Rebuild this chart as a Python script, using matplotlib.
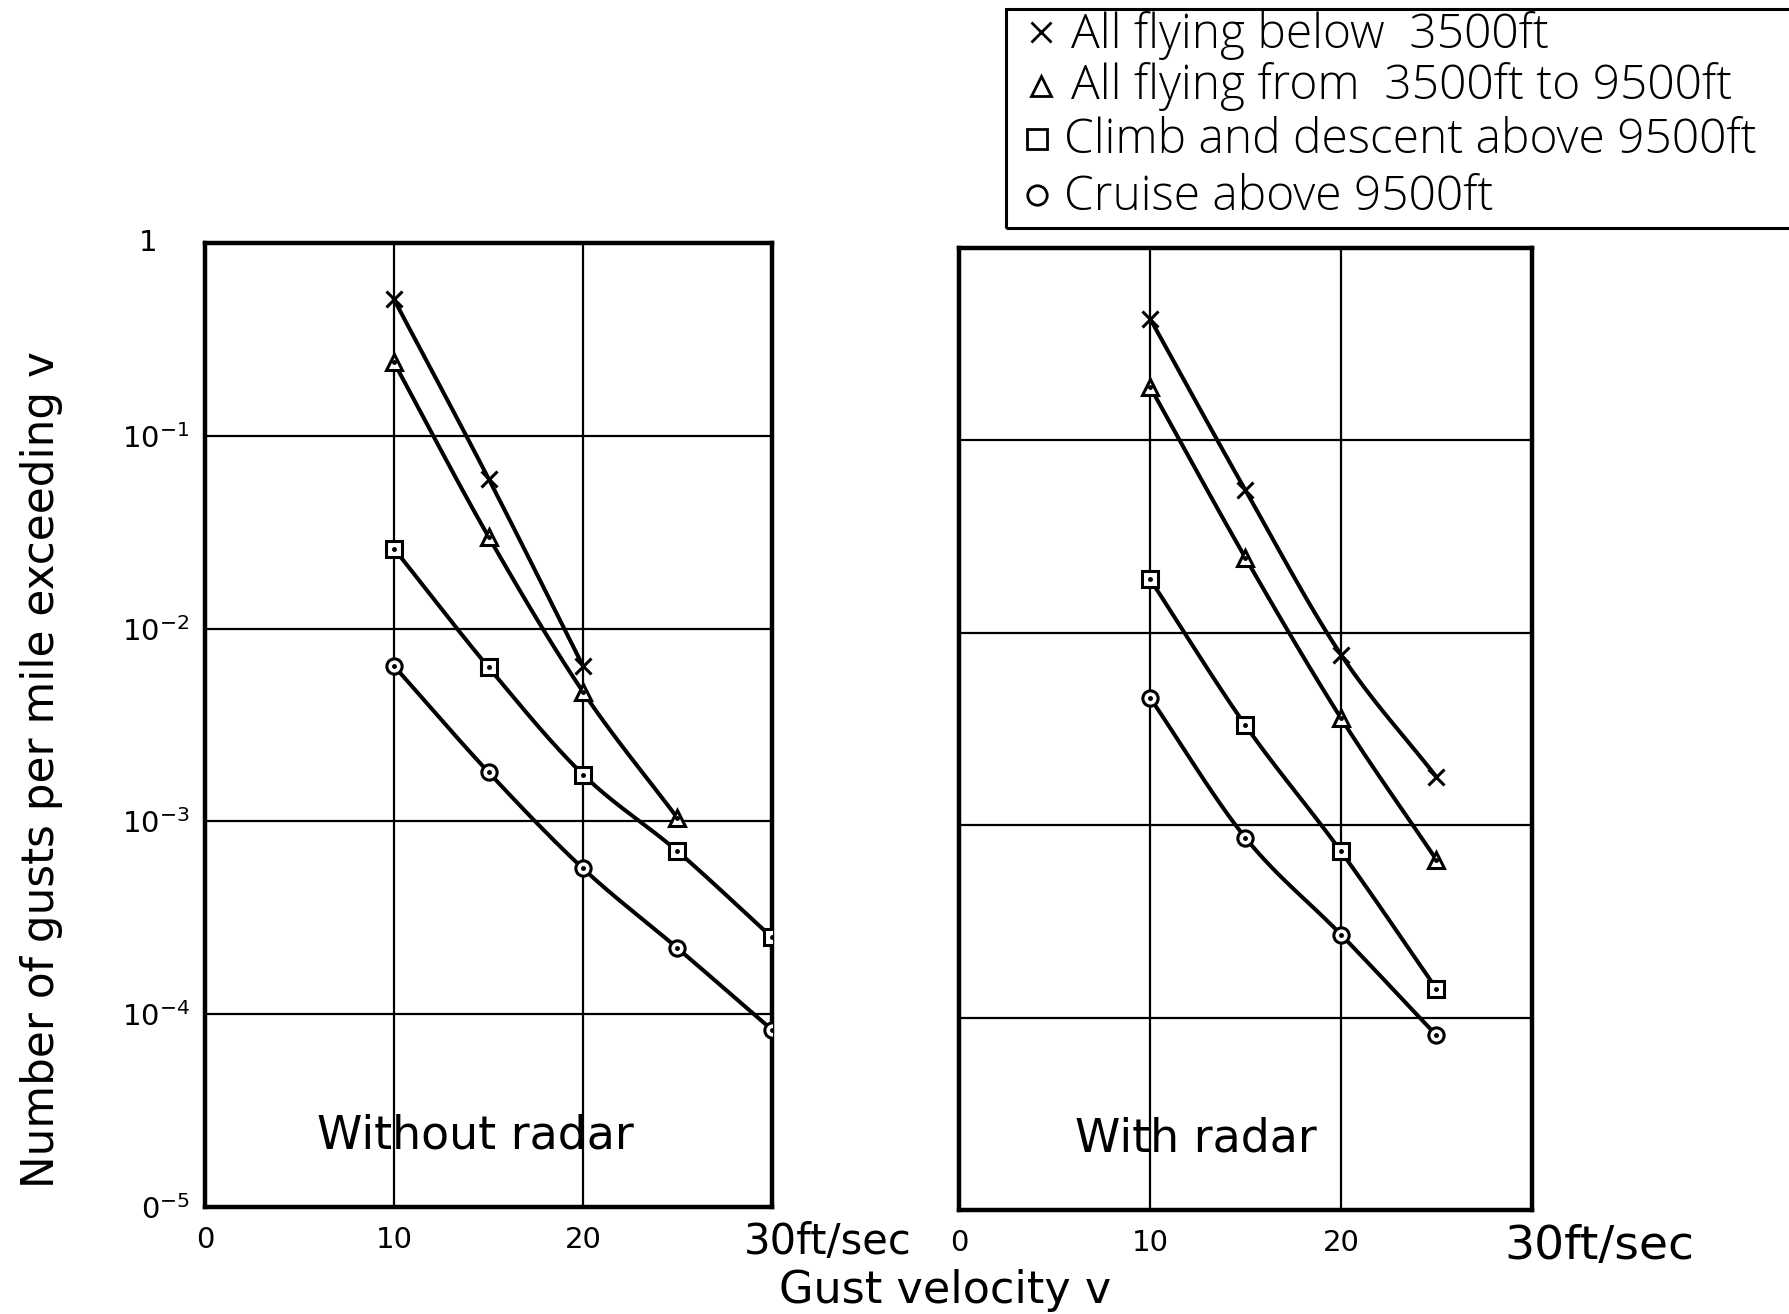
import numpy as np
import matplotlib
matplotlib.use("Agg")
import matplotlib.pyplot as plt
from matplotlib.lines import Line2D
from matplotlib.patches import Rectangle
from matplotlib.ticker import NullLocator

# ---------------- data ----------------
series_labels = ["All flying below  3500ft",
                 "All flying from  3500ft to 9500ft",
                 "Climb and descent above 9500ft",
                 "Cruise above 9500ft"]
series_markers = ["x", "^", "s", "o"]

# Without radar
wo_v_below = [10, 15, 20]
wo_n_below = [0.51, 0.060, 0.0064]
wo_v_mid = [10, 15, 20, 25]
wo_n_mid = [0.24, 0.030, 0.0047, 0.00104]
wo_v_climb = [10, 15, 20, 25, 30]
wo_n_climb = [0.026, 0.0063, 0.00175, 0.00070, 0.00025]
wo_v_cruise = [10, 15, 20, 25, 30]
wo_n_cruise = [0.0064, 0.0018, 0.00057, 0.00022, 0.000083]

# With radar
w_v_below = [10, 15, 20, 25]
w_n_below = [0.43, 0.055, 0.0077, 0.00178]
w_v_mid = [10, 15, 20, 25]
w_n_mid = [0.19, 0.0245, 0.0036, 0.00066]
w_v_climb = [10, 15, 20, 25]
w_n_climb = [0.019, 0.0033, 0.00073, 0.000141]
w_v_cruise = [10, 15, 20, 25]
w_n_cruise = [0.0046, 0.00086, 0.00027, 0.0000808]

x_ticks = [0, 10, 20, 30]
x_tick_labels = ["0", "10", "20", ""]
x_end_label = "30ft/sec"
y_ticks = [1e-5, 1e-4, 1e-3, 1e-2, 1e-1, 1]
y_tick_labels = [r"$\mathregular{0^{-5}}$", r"$\mathregular{10^{-4}}$", r"$\mathregular{10^{-3}}$",
                 r"$\mathregular{10^{-2}}$", r"$\mathregular{10^{-1}}$", ""]
y_top_label = "1"

# ---------------- styling ----------------
plt.rcParams["font.family"] = ["DejaVu Sans"]
LEG_FONT = dict(family=["Open Sans", "DejaVu Sans"], weight="light", size=34.5)


def smooth_curve(x, y, n=40):
    """Catmull-Rom curve through the points in (x, log y) space (drawing only)."""
    x = np.asarray(x, float)
    ly = np.log10(np.asarray(y, float))
    px = np.concatenate([[2 * x[0] - x[1]], x, [2 * x[-1] - x[-2]]])
    py = np.concatenate([[2 * ly[0] - ly[1]], ly, [2 * ly[-1] - ly[-2]]])
    xs, ys = [], []
    t = np.linspace(0, 1, n)
    for i in range(1, len(px) - 2):
        for arr, out in ((px, xs), (py, ys)):
            p0, p1, p2, p3 = arr[i - 1:i + 3]
            out.append(0.5 * ((2 * p1) + (-p0 + p2) * t
                              + (2 * p0 - 5 * p1 + 4 * p2 - p3) * t ** 2
                              + (-p0 + 3 * p1 - 3 * p2 + p3) * t ** 3))
    return np.concatenate(xs), 10 ** np.concatenate(ys)


W, H = 1790, 1314
fig = plt.figure(figsize=(W / 100, H / 100), dpi=100)
fig.patch.set_facecolor("white")

axL = fig.add_axes([205 / W, 1 - 1207 / H, (772 - 205) / W, (1207 - 243) / H])
axR = fig.add_axes([959 / W, 1 - 1210 / H, (1532 - 959) / W, (1210 - 248) / H])


def style_axis(ax, show_y, end_size):
    ax.set_yscale("log")
    ax.set_xlim(0, 30)
    ax.set_ylim(1e-5, 1)
    ax.set_xticks(x_ticks)
    ax.set_xticklabels(x_tick_labels)
    ax.set_yticks(y_ticks)
    ax.yaxis.set_minor_locator(NullLocator())
    if show_y:
        ax.set_yticklabels(y_tick_labels)
        ax.annotate(y_top_label, xy=(0, 1), xycoords="axes fraction",
                    xytext=(-41, 0), textcoords="offset points",
                    ha="center", va="center", fontsize=21)
    else:
        ax.set_yticklabels([])
    ax.tick_params(length=0, labelsize=21, pad=14)
    ax.tick_params(axis="y", pad=11)
    ax.grid(True, color="black", linewidth=1.6)
    for s in ax.spines.values():
        s.set_linewidth(3.2)
        s.set_color("black")
    ax.annotate(x_end_label, xy=(30, 0), xycoords=("data", "axes fraction"),
                xytext=(-20, -10), textcoords="offset points",
                ha="left", va="top", fontsize=end_size)


def draw_series(ax, v, n, marker):
    cx, cy = smooth_curve(v, n)
    ax.plot(cx, cy, color="black", linewidth=2.9, zorder=3)
    ms = 12 if marker == "x" else 11
    ax.plot(v, n, linestyle="none", marker=marker, markersize=ms,
            markerfacecolor="white", markeredgecolor="black",
            markeredgewidth=2.2, zorder=4)
    if marker != "x":
        ax.plot(v, n, linestyle="none", marker="o", markersize=2.5,
                color="black", zorder=5)


style_axis(axL, True, 30)
style_axis(axR, False, 34)

for v, n, m in [(wo_v_below, wo_n_below, "x"), (wo_v_mid, wo_n_mid, "^"),
                (wo_v_climb, wo_n_climb, "s"), (wo_v_cruise, wo_n_cruise, "o")]:
    draw_series(axL, v, n, m)
for v, n, m in [(w_v_below, w_n_below, "x"), (w_v_mid, w_n_mid, "^"),
                (w_v_climb, w_n_climb, "s"), (w_v_cruise, w_n_cruise, "o")]:
    draw_series(axR, v, n, m)

axL.text(14.3, 10 ** -4.63, "Without radar", ha="center", va="center",
         fontsize=33, zorder=6)
axR.text(12.4, 10 ** -4.63, "With radar", ha="center", va="center",
         fontsize=33, zorder=6)

fig.text(42 / W, 1 - 770 / H, "Number of gusts per mile exceeding v",
         rotation=90, ha="center", va="center", fontsize=31.5)
fig.text(945 / W, 1 - 1290 / H, "Gust velocity v", ha="center", va="center",
         fontsize=32)

# ---------------- legend box (drawn by hand) ----------------
fig.add_artist(Rectangle((1006 / W, 1 - 228 / H), (1800 - 1006) / W, 219 / H,
                         transform=fig.transFigure, fill=False,
                         edgecolor="black", linewidth=2.2, clip_on=False))
leg_marker_x = [1041, 1041, 1037, 1037]
leg_marker_y = [32, 86, 139, 195]
leg_text_x = [1071, 1071, 1064, 1064]
leg_text_base = [48, 99, 153, 210]
for m, lab, mx, my, tx, ty in zip(series_markers, series_labels, leg_marker_x,
                                  leg_marker_y, leg_text_x, leg_text_base):
    fig.add_artist(Line2D([mx / W], [1 - my / H], transform=fig.transFigure,
                          linestyle="none", marker=m, markersize=14,
                          markerfacecolor="white", markeredgecolor="black",
                          markeredgewidth=2))
    fig.text(tx / W, 1 - ty / H, lab, ha="left", va="baseline", **LEG_FONT)

fig.savefig("out.png", dpi=100, facecolor="white")
